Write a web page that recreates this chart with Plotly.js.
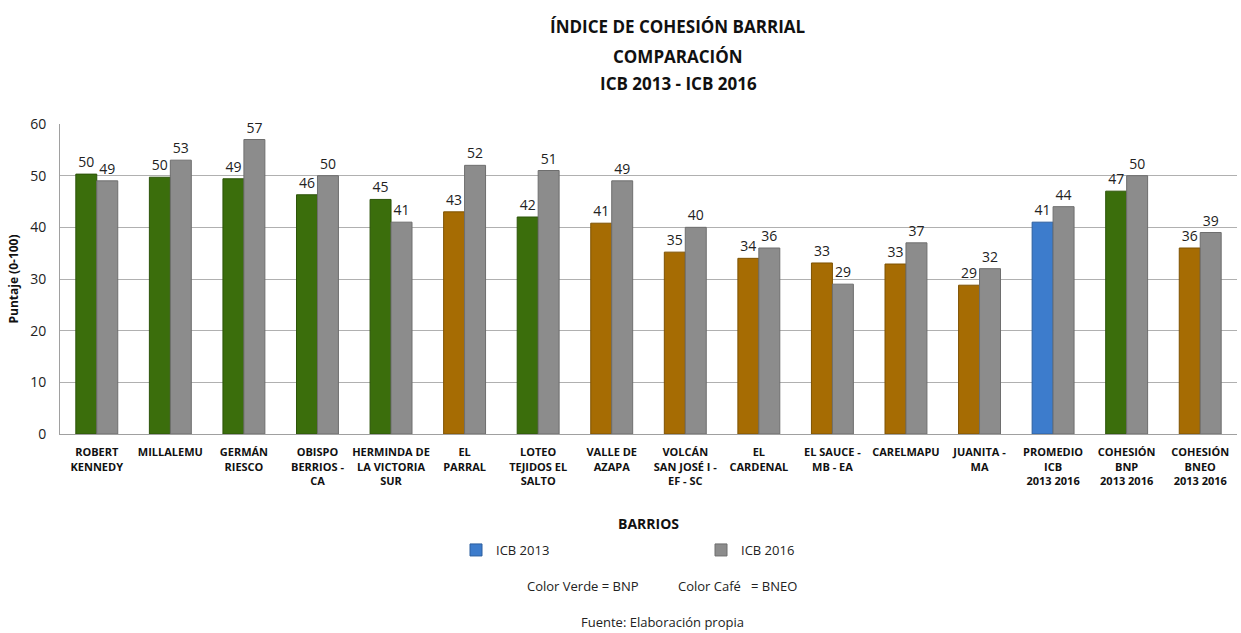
<!DOCTYPE html>
<html>
<head>
<meta charset="utf-8">
<script src="https://cdn.plot.ly/plotly-3.0.1.min.js"></script>
<style>html,body{margin:0;padding:0;background:#fff;}#chart{width:1241px;height:633px;}</style>
</head>
<body>
<div id="chart"></div>
<script>
const categories = [
  "ROBERT<br>KENNEDY", "MILLALEMU", "GERMÁN<br>RIESCO", "OBISPO<br>BERRIOS -<br>CA",
  "HERMINDA DE<br>LA VICTORIA<br>SUR", "EL<br>PARRAL", "LOTEO<br>TEJIDOS EL<br>SALTO",
  "VALLE DE<br>AZAPA", "VOLCÁN<br>SAN JOSÉ I -<br>EF - SC", "EL<br>CARDENAL",
  "EL SAUCE -<br>MB - EA", "CARELMAPU", "JUANITA -<br>MA", "PROMEDIO<br>ICB<br>2013 2016",
  "COHESIÓN<br>BNP<br>2013 2016", "COHESIÓN<br>BNEO<br>2013 2016"
];
const icb2013 = [50.3, 49.7, 49.4, 46.3, 45.4, 43.0, 42.0, 40.8, 35.2, 34.0, 33.1, 32.9, 28.8, 41.0, 47.0, 36.0];
const icb2016 = [49, 53, 57, 50, 41, 52, 51, 49, 40, 36, 29, 37, 32, 44, 50, 39];
const groupType = ["BNP","BNP","BNP","BNP","BNP","BNEO","BNP","BNEO","BNEO","BNEO","BNEO","BNEO","BNEO","PROM","BNP","BNEO"];
const yTicks = [0, 10, 20, 30, 40, 50, 60];

const colorMap = {BNP: "#3b6e0c", BNEO: "#a66c03", PROM: "#3d7ccc"};
const lineMap = {BNP: "#2c5408", BNEO: "#7e5202", PROM: "#2c5f9f"};
const gray = "#8c8c8c";

const FAM = "Open Sans, sans-serif";
const labelFont = {family: FAM, size: 14, color: "#222"};

const traces = [
  {
    type: "bar", name: "ICB 2013", x: categories, y: icb2013, showlegend: false,
    offsetgroup: "a",
    marker: {color: groupType.map(g => colorMap[g]), line: {color: groupType.map(g => lineMap[g]), width: 1}},
    texttemplate: "%{y:.0f}", textposition: "outside", cliponaxis: false,
    textfont: labelFont, hoverinfo: "x+y"
  },
  {
    type: "bar", name: "ICB 2013", x: [categories[0]], y: [null], offsetgroup: "a",
    marker: {color: colorMap.PROM, line: {color: lineMap.PROM, width: 1}}, hoverinfo: "skip"
  },
  {
    type: "bar", name: "ICB 2016", x: categories, y: icb2016, offsetgroup: "b",
    marker: {color: gray, line: {color: "#6e6e6e", width: 1}},
    texttemplate: "%{y:.0f}", textposition: "outside", cliponaxis: false,
    textfont: labelFont, hoverinfo: "x+y"
  }
];

const annFont = {family: FAM, size: 13, color: "#222"};
const titleFont = {family: FAM, size: 17, color: "#111"};

const layout = {
  width: 1241, height: 633,
  margin: {l: 60, r: 4, t: 124, b: 199},
  paper_bgcolor: "#fff", plot_bgcolor: "#fff",
  barmode: "group", bargap: 0.43, bargroupgap: 0.0,
  font: annFont,
  xaxis: {
    type: "category", tickangle: 0, showline: true, linecolor: "#a0a0a0", linewidth: 1,
    ticks: "", showgrid: false, ticklabelstandoff: 8,
    tickfont: {family: FAM, size: 11, color: "#111", weight: "bold"},
    title: {text: "<b>BARRIOS</b>", font: {family: FAM, size: 14, color: "#111"}, standoff: 32}
  },
  yaxis: {
    range: [0, 60], tickvals: yTicks, showgrid: true, gridcolor: "#b0b0b0", gridwidth: 1,
    showline: true, linecolor: "#a0a0a0", zeroline: false, ticks: "", ticklabelstandoff: 10,
    tickfont: {family: FAM, size: 14, color: "#222"},
    title: {text: "<b>Puntaje (0-100)</b>", font: {family: FAM, size: 12, color: "#111"}, standoff: 8}
  },
  legend: {
    orientation: "h", x: (456 - 60) / 1177, xanchor: "left", y: (434 - 550) / 310, yanchor: "middle",
    entrywidth: 200, entrywidthmode: "pixels",
    font: {family: FAM, size: 13, color: "#222"},
    itemwidth: 30, traceorder: "normal"
  },
  annotations: [
    {text: "<b>ÍNDICE DE COHESIÓN BARRIAL</b>", xref: "paper", yref: "paper", x: (678 - 60) / 1177, y: (434 - 27) / 310, xanchor: "center", yanchor: "middle", showarrow: false, font: titleFont},
    {text: "<b>COMPARACIÓN</b>", xref: "paper", yref: "paper", x: (678 - 60) / 1177, y: (434 - 56) / 310, xanchor: "center", yanchor: "middle", showarrow: false, font: titleFont},
    {text: "<b>ICB 2013 - ICB 2016</b>", xref: "paper", yref: "paper", x: (678 - 60) / 1177, y: (434 - 84) / 310, xanchor: "center", yanchor: "middle", showarrow: false, font: titleFont},
    {text: "Color Verde = BNP", xref: "paper", yref: "paper", x: (583 - 60) / 1177, y: (434 - 586) / 310, xanchor: "center", yanchor: "middle", showarrow: false, font: annFont},
    {text: "Color Café   = BNEO", xref: "paper", yref: "paper", x: (737 - 60) / 1177, y: (434 - 586) / 310, xanchor: "center", yanchor: "middle", showarrow: false, font: annFont},
    {text: "Fuente: Elaboración propia", xref: "paper", yref: "paper", x: (662 - 60) / 1177, y: (434 - 622) / 310, xanchor: "center", yanchor: "middle", showarrow: false, font: annFont}
  ]
};

Plotly.newPlot("chart", traces, layout, {displayModeBar: false, staticPlot: true});
</script>
</body>
</html>
